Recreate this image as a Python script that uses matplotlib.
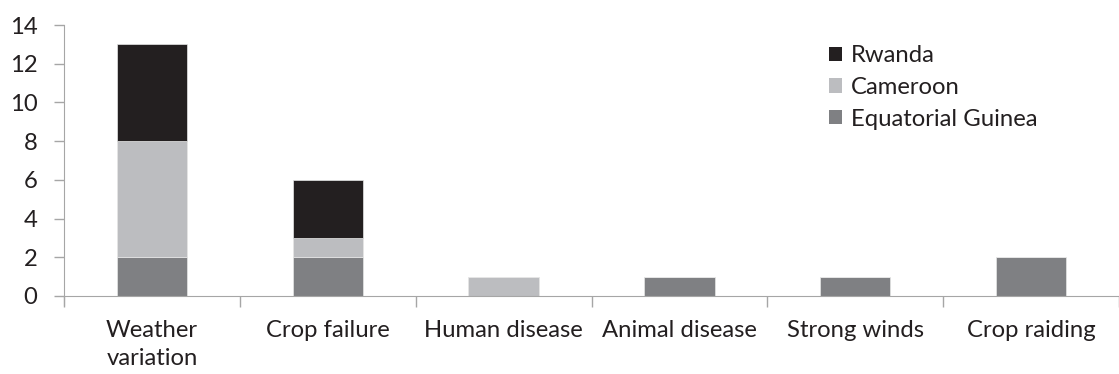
import matplotlib
matplotlib.use("Agg")
import matplotlib.pyplot as plt
import numpy as np

categories = ["Weather\nvariation", "Crop failure", "Human disease", "Animal disease", "Strong winds", "Crop raiding"]
equatorial_guinea = [2, 2, 0, 1, 1, 2]
cameroon = [6, 1, 1, 0, 0, 0]
rwanda = [5, 3, 0, 0, 0, 0]

plt.rcParams["font.family"] = ["Lato", "DejaVu Sans"]
axis_color = "#a6a6a6"
text_color = "#231f20"
fs = 17.2

fig = plt.figure(figsize=(11.19, 3.74), dpi=100)
ax = fig.add_axes([0.0572, 0.2086, 0.9428, 0.7244])

x = np.arange(len(categories))
eg = np.array(equatorial_guinea)
cm = np.array(cameroon)
rw = np.array(rwanda)
width = 0.40
ax.bar(x, eg, width, color="#7f8083", label="Equatorial Guinea", edgecolor="#e6e6e6", linewidth=0.5)
ax.bar(x, cm, width, bottom=eg, color="#bcbdc0", label="Cameroon", edgecolor="#e6e6e6", linewidth=0.5)
ax.bar(x, rw, width, bottom=eg + cm, color="#231f20", label="Rwanda", edgecolor="#e6e6e6", linewidth=0.5)

ax.set_xlim(-0.5, len(categories) - 0.5)
ax.set_ylim(0, 14)
ax.set_yticks(range(0, 15, 2))
ax.set_xticks(x)
ax.set_xticklabels(categories, fontsize=fs, color=text_color, linespacing=1.45)
ax.set_xticks(np.arange(-0.5, len(categories), 1), minor=True)
ax.tick_params(axis="x", which="major", length=0, pad=17)
ax.tick_params(axis="x", which="minor", length=8, color=axis_color, width=1)
ax.tick_params(axis="y", length=7, color=axis_color, width=1, labelsize=fs, labelcolor=text_color, pad=12)

for side in ["top", "right"]:
    ax.spines[side].set_visible(False)
ax.spines["left"].set_color(axis_color)
ax.spines["bottom"].set_color(axis_color)
ax.spines["left"].set_bounds(-0.45, 14)
ax.spines["left"].set_position(("data", -0.5))

handles, labels = ax.get_legend_handles_labels()
leg = ax.legend(handles[::-1], labels[::-1], loc="upper left", bbox_to_anchor=(0.705, 1.005),
                frameon=False, fontsize=fs, handlelength=0.55, handleheight=0.55,
                handletextpad=0.35, labelspacing=0.45, labelcolor=text_color)
for h in leg.legend_handles:
    h.set_edgecolor("none")

fig.savefig("out.png", dpi=100)
